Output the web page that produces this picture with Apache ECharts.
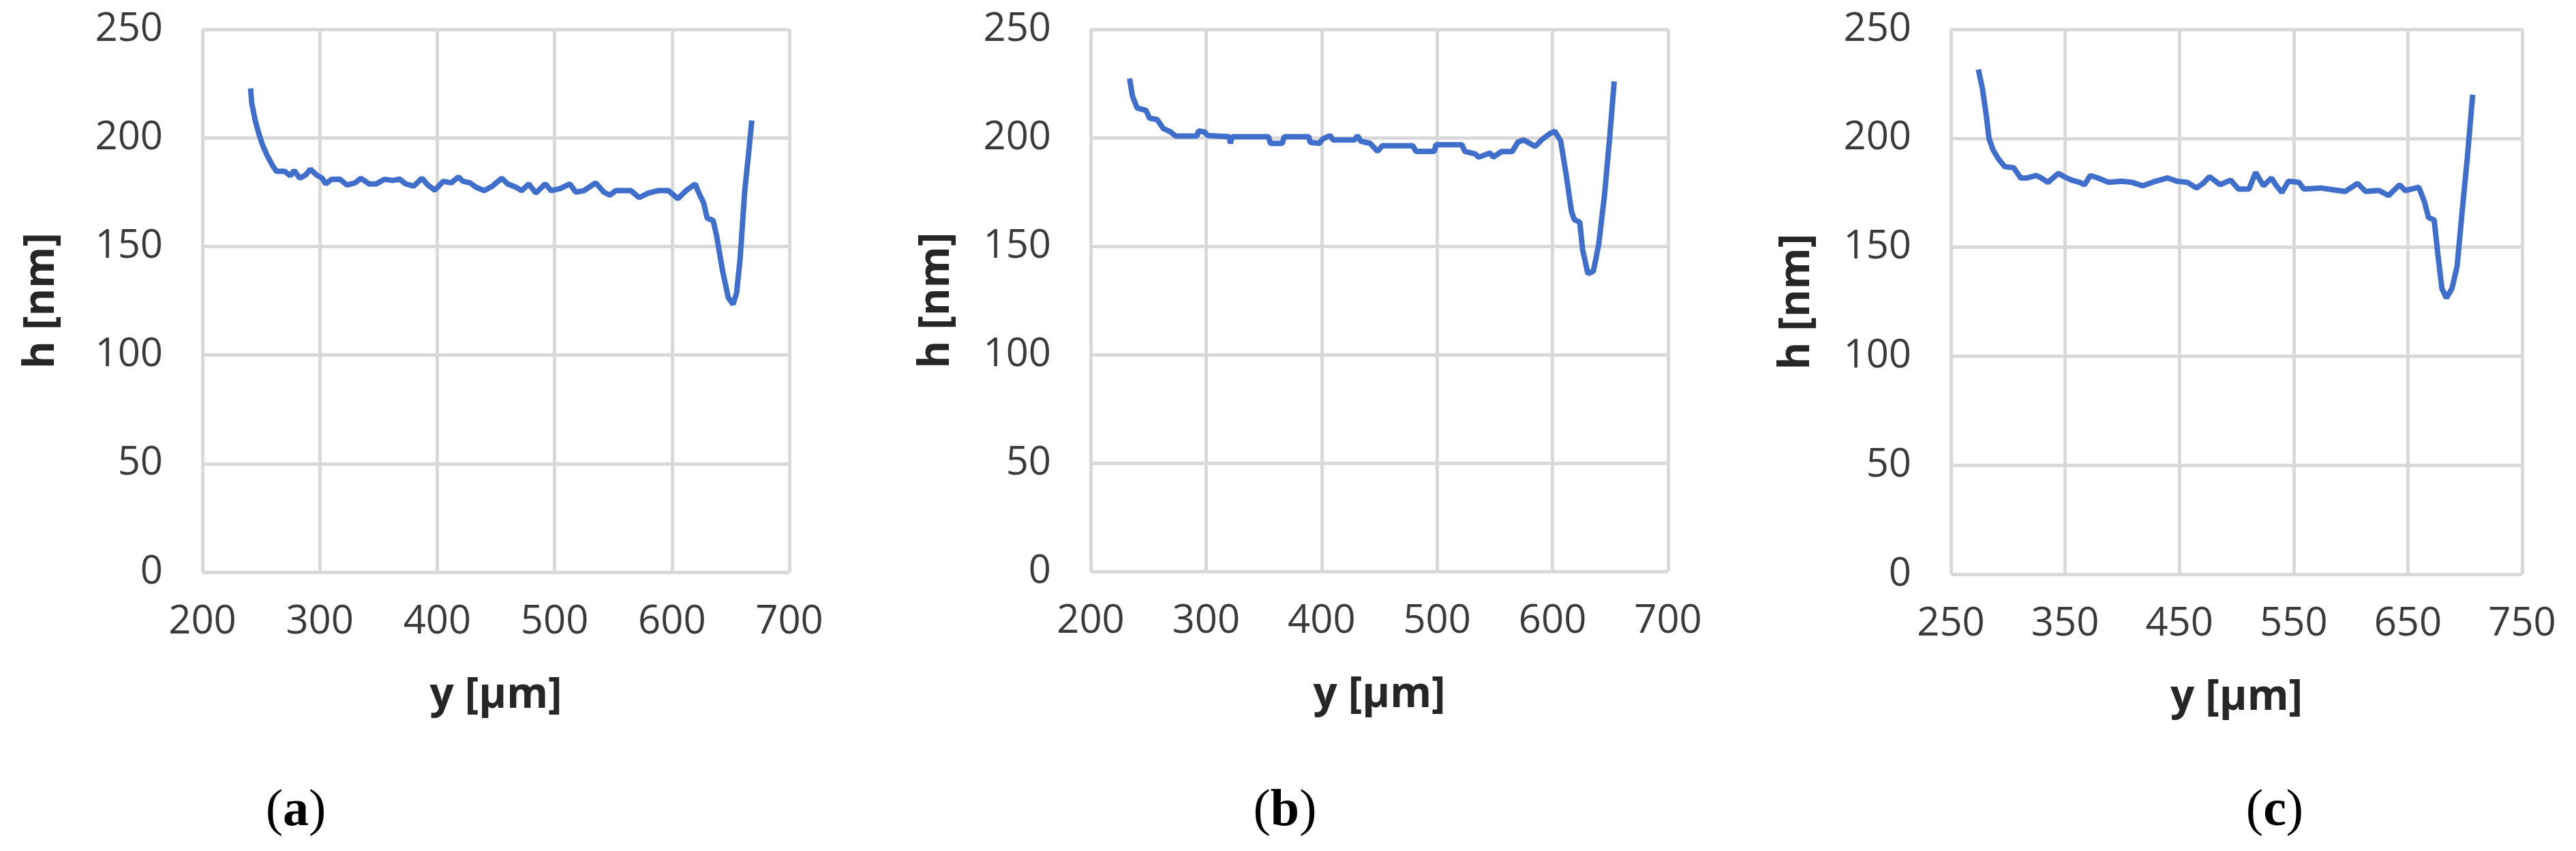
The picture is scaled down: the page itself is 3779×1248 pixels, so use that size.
<!DOCTYPE html>
<html>
<head>
<meta charset="utf-8">
<script src="https://cdn.jsdelivr.net/npm/echarts@6/dist/echarts.min.js"></script>
<style>
html,body{margin:0;padding:0;background:#fff;}
#chart{width:3779px;height:1248px;}
</style>
</head>
<body>
<div id="chart"></div>
<script>
// ---- Data ----
const panelLabels = ['a', 'b', 'c'];
const yTicks = [0, 50, 100, 150, 200, 250];
const xTicksA = [200, 300, 400, 500, 600, 700];
const xTicksB = [200, 300, 400, 500, 600, 700];
const xTicksC = [250, 350, 450, 550, 650, 750];

const yA = [241,242,245,248,251,255,260,263,270,275,278,283,288,292,297,302,305,310,317,323,330,335,342,348,355,362,368,373,380,387,392,398,405,412,418,422,428,433,440,447,455,460,467,472,478,484,492,497,505,513,518,525,535,542,547,552,565,572,580,588,597,605,612,620,622,627,630,635,638,643,648,652,655,658,662,665,668];
const hA = [222.8,216,208,202,197,192,187,184.6,184.6,182.5,185,181.4,183,185.6,183,181.4,178.8,180.9,181,178.3,179.3,181.4,178.8,178.8,180.9,180.4,181,178.8,177.8,181.4,178.3,175.9,180,179.3,182,180,179.3,177.3,175.7,177.8,181.4,178.8,177.3,175.7,178.8,174.6,178.8,175.7,176.7,178.8,175,175.7,179.3,175,173.6,175.7,175.7,172.5,174.6,175.7,175.7,172,175.7,178.8,175.7,170,163,162,155,139,126.4,123.3,128.5,144,175.7,191.4,208];

const yB = [233.7,236.3,240.3,248,251,257.6,263,269.5,273.5,292,293.4,298.7,301.3,320,321,322.5,354,355.7,366,367.6,389,390,398,401,407.4,410,428.6,431,434,442,448.5,452.5,479,481.7,497.6,499,521.5,524,533,536,546,548.5,555.6,565,570,575,585,590.5,597,602,607,611.6,616.4,618.8,623.6,626,630.6,635.4,640,645,649.6,653.4];
const hB = [227.3,219,213.7,212.6,209,208.4,204.2,202.6,200.8,200.8,203.2,202.6,201,200.5,197.4,200.5,200.5,197.4,197.4,200.5,200.5,197.9,197.4,199.5,201,199,199,201,198.4,197.4,193.7,196.3,196.3,193.7,193.7,196.8,196.8,193.7,192.6,191,193,191,193.6,193.6,198,199,196,199,201.7,203,198.6,183.6,166,162.3,161,148.5,137.3,138.5,151,173.6,201,226];

const yC = [274,277.6,281,283.3,286.8,291.4,297,305,311,316.7,324.7,329,335,344,349,355.7,362.6,367,372,378.7,388,399.4,408.6,417.8,429,439.7,447.7,456.9,465,470.7,476.4,485.6,494.8,501.7,511,516.7,523.6,530.5,535,539.7,545.4,554.6,559,574,580,595,606,613,624.7,633,642.8,647.6,659.6,664.4,668,673,676.4,679.8,683.7,688.5,693,697,702,706.7];
const hC = [231.6,222.8,210.4,200,194.8,190.7,187,186.5,181.8,181.8,182.9,181.8,179.8,183.9,182.4,180.8,179.8,178.7,182.9,181.8,179.8,180.3,179.8,178.2,180.3,181.8,180.3,179.8,177.2,179.3,182.4,178.7,180.8,176.7,176.7,184.4,178.2,181.8,178.2,175.1,180.3,179.8,176.7,177.2,176.7,175.6,179.3,175.6,176.1,173.7,178.7,176,177.5,171,163.7,162.5,146,131,126.7,131,141,163.7,191,220];

const xName = 'y [µm]';
const yName = 'h [nm]';

// ---- Layout / style ----
const grids = [
  {left: 297, top: 43, width: 861, height: 796},
  {left: 1600, top: 43, width: 847, height: 795},
  {left: 2862, top: 43, width: 838, height: 799}
];
const yNameGaps = [205, 195, 195];
const labelCenters = [434, 1885, 3337];
const gridColor = '#d9d9d9';
const lineColor = '#3F6FCA';

const pairs = (xs, ys) => xs.map((v, i) => [v, ys[i]]);
const seriesData = [pairs(yA, hA), pairs(yB, hB), pairs(yC, hC)];
const xTickSets = [xTicksA, xTicksB, xTicksC];

const xAxes = xTickSets.map((ticks, i) => ({
  type: 'value', gridIndex: i,
  min: ticks[0], max: ticks[ticks.length - 1],
  axisLine: {show: false},
  axisTick: {show: false, customValues: ticks},
  splitLine: {show: true, lineStyle: {color: gridColor, width: 5}},
  axisLabel: {customValues: ticks, fontFamily: 'Open Sans', fontSize: 58, color: '#3a3a3a', margin: 44},
  name: xName, nameLocation: 'middle', nameGap: 150,
  nameTextStyle: {fontFamily: 'Open Sans', fontWeight: 'bold', fontSize: 62, color: '#262626'}
}));
const yAxes = [0, 1, 2].map(i => ({
  type: 'value', gridIndex: i,
  min: yTicks[0], max: yTicks[yTicks.length - 1], interval: 50,
  axisLine: {show: false},
  axisTick: {show: false},
  splitLine: {show: true, lineStyle: {color: gridColor, width: 5}},
  axisLabel: {fontFamily: 'Open Sans', fontSize: 58, color: '#3a3a3a', margin: 58},
  name: yName, nameLocation: 'middle', nameGap: yNameGaps[i],
  nameTextStyle: {fontFamily: 'Open Sans', fontWeight: 'bold', fontSize: 62, color: '#262626'}
}));

const series = seriesData.map((d, i) => ({
  type: 'line', xAxisIndex: i, yAxisIndex: i, data: d,
  showSymbol: false, smooth: false, animation: false,
  lineStyle: {color: lineColor, width: 8}
}));

const graphics = panelLabels.map((l, i) => ({
  type: 'text', x: labelCenters[i], y: 1190,
  style: {
    text: '{p|(}{b|' + l + '}{p|)}',
    align: 'center', verticalAlign: 'middle',
    rich: {
      p: {fontFamily: 'Liberation Serif', fontSize: 76, fill: '#000', color: '#000'},
      b: {fontFamily: 'Liberation Serif', fontSize: 76, fontWeight: 'bold', fill: '#000', color: '#000'}
    }
  }
}));

const chart = echarts.init(document.getElementById('chart'), null, {renderer: 'canvas', width: 3779, height: 1248});
chart.setOption({
  backgroundColor: '#ffffff',
  animation: false,
  grid: grids,
  xAxis: xAxes,
  yAxis: yAxes,
  series: series,
  graphic: graphics
});
</script>
</body>
</html>
